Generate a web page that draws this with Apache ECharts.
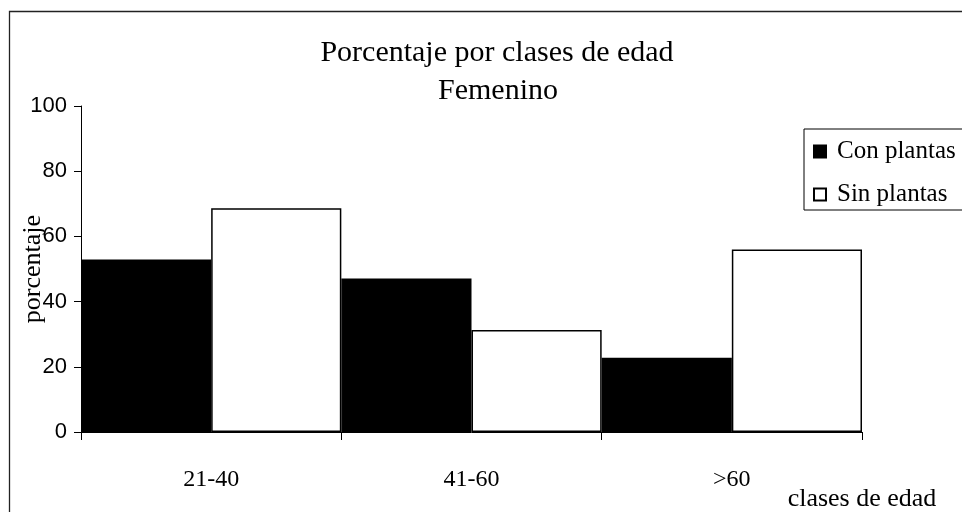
<!DOCTYPE html>
<html><head><meta charset="utf-8">
<script src="https://cdn.jsdelivr.net/npm/echarts@6/dist/echarts.min.js"></script>
<style>html,body{margin:0;padding:0;background:#fff}#c{width:962px;height:512px}</style>
</head><body><div id="c"></div>
<script>
const categories = ['21-40', '41-60', '>60'];
const conPlantas = [52.9, 47.1, 22.8];
const sinPlantas = [68.6, 31.3, 56.0];
const yTicks = [0, 20, 40, 60, 80, 100];

const chart = echarts.init(document.getElementById('c'), null, {renderer: 'canvas'});
const serif = 'Liberation Serif';
const sans = 'Liberation Sans';
chart.setOption({
  animation: false,
  backgroundColor: '#fff',
  title: [
    {text: 'Porcentaje por clases de edad', left: 492, top: 33, textAlign: 'center',
     textStyle: {fontFamily: serif, fontSize: 30, fontWeight: 'normal', color: '#000'}},
    {text: 'Femenino', left: 493, top: 71, textAlign: 'center',
     textStyle: {fontFamily: serif, fontSize: 30, fontWeight: 'normal', color: '#000'}}
  ],
  graphic: [
    {type: 'rect', shape: {x: 9.5, y: 11.5, width: 1000, height: 600}, silent: true,
     style: {fill: 'none', stroke: '#222', lineWidth: 1.3}}
  ],
  legend: {
    orient: 'vertical', left: 804, top: 129,
    itemWidth: 12, itemHeight: 12, itemGap: 18,
    padding: [10, 40, 3, 9],
    borderColor: '#000', borderWidth: 1,
    icon: 'rect',
    textStyle: {fontFamily: serif, fontSize: 25, lineHeight: 25, color: '#000', padding: [0, 0, 0, 6]},
    data: ['Con plantas', 'Sin plantas']
  },
  grid: {left: 81, right: 100, top: 106, bottom: 80, containLabel: false, outerBoundsMode: 'none'},
  xAxis: {
    type: 'category', data: categories,
    name: 'clases de edad', nameLocation: 'end', nameGap: 0, nameMoveOverlap: false,
    nameTextStyle: {fontFamily: serif, fontSize: 26, color: '#000', align: 'center', verticalAlign: 'top', padding: [54, 0, 0, 0]},
    axisLine: {lineStyle: {color: '#000', width: 1}},
    axisTick: {show: true, length: 8, lineStyle: {color: '#000'}},
    axisLabel: {fontFamily: serif, fontSize: 24, color: '#000', margin: 36}
  },
  yAxis: {
    type: 'value', min: 0, max: 100, interval: 20,
    name: 'porcentaje', nameLocation: 'middle', nameGap: 35, nameRotate: 90, nameMoveOverlap: false,
    nameTextStyle: {fontFamily: serif, fontSize: 26, color: '#000'},
    axisLine: {show: true, lineStyle: {color: '#000', width: 1}},
    axisTick: {show: true, length: 7, lineStyle: {color: '#000'}},
    axisLabel: {fontFamily: sans, fontSize: 22, color: '#000', margin: 14,
      formatter: v => yTicks.includes(v) ? String(v) : ''},
    splitLine: {show: false}
  },
  series: [
    {name: 'Con plantas', type: 'bar', data: conPlantas, barGap: '0%', barCategoryGap: '0%',
     itemStyle: {color: '#000', borderColor: '#000', borderWidth: 1.5}},
    {name: 'Sin plantas', type: 'bar', data: sinPlantas, barGap: '0%', barCategoryGap: '0%',
     itemStyle: {color: '#fff', borderColor: '#000', borderWidth: 1.5}}
  ]
});
</script></body></html>
